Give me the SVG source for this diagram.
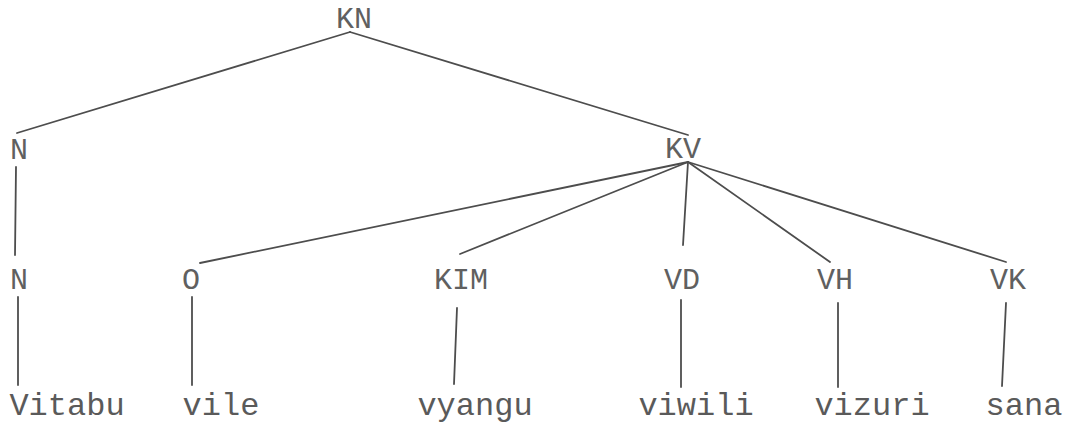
<svg xmlns="http://www.w3.org/2000/svg" width="1077" height="429" viewBox="0 0 1077 429">
<style>
.lbl{font-family:"Courier New","Nimbus Mono PS","Liberation Mono",monospace;font-size:30px;fill:#606060;text-anchor:middle}
.wd{font-family:"Courier New","Nimbus Mono PS","Liberation Mono",monospace;font-size:32px;fill:#5a5a5a;text-anchor:middle}
.e{stroke:#4d4d4d;stroke-width:1.8;fill:none;stroke-linecap:round}
</style>
<rect width="1077" height="429" fill="#ffffff"/>
<g id="connectors">
<line class="e" x1="350" y1="32" x2="17" y2="133"/>
<line class="e" x1="350" y1="32" x2="688" y2="135"/>
<line class="e" x1="16" y1="167" x2="15" y2="255"/>
<line class="e" x1="688" y1="162" x2="200" y2="263"/>
<line class="e" x1="688" y1="162" x2="460" y2="254"/>
<line class="e" x1="688" y1="162" x2="683" y2="245"/>
<line class="e" x1="688" y1="162" x2="830" y2="262"/>
<line class="e" x1="688" y1="162" x2="1006" y2="262"/>
<line class="e" x1="18" y1="297" x2="18" y2="385"/>
<line class="e" x1="192" y1="297" x2="192" y2="385"/>
<line class="e" x1="457" y1="308" x2="454" y2="384"/>
<line class="e" x1="681" y1="300" x2="681" y2="387"/>
<line class="e" x1="838" y1="303" x2="838" y2="387"/>
<line class="e" x1="1006" y1="303" x2="1002" y2="386"/>
</g>
<g id="KN"><text class="lbl" x="354" y="28">KN</text></g>
<g id="N1"><text class="lbl" x="19" y="159">N</text></g>
<g id="KV"><text class="lbl" x="683" y="158">KV</text></g>
<g id="N2"><text class="lbl" x="19" y="289">N</text></g>
<g id="O"><text class="lbl" x="191" y="289">O</text></g>
<g id="KIM"><text class="lbl" x="461" y="289">KIM</text></g>
<g id="VD"><text class="lbl" x="682" y="289">VD</text></g>
<g id="VH"><text class="lbl" x="835" y="289">VH</text></g>
<g id="VK"><text class="lbl" x="1008" y="289">VK</text></g>
<g id="Vitabu"><text class="wd" x="67" y="415">Vitabu</text></g>
<g id="vile"><text class="wd" x="221" y="415">vile</text></g>
<g id="vyangu"><text class="wd" x="475" y="415">vyangu</text></g>
<g id="viwili"><text class="wd" x="696" y="415">viwili</text></g>
<g id="vizuri"><text class="wd" x="872" y="415">vizuri</text></g>
<g id="sana"><text class="wd" x="1024" y="415">sana</text></g>
</svg>
